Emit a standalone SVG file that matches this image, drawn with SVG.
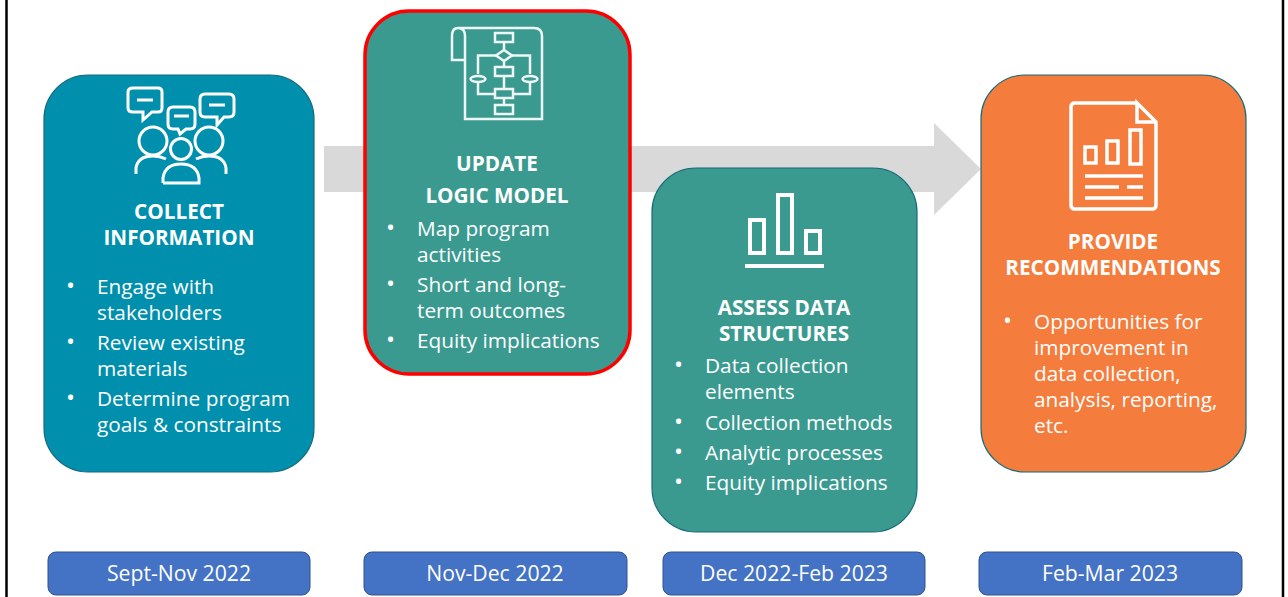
<svg xmlns="http://www.w3.org/2000/svg" width="1288" height="597" viewBox="0 0 1288 597">
<style>
text{font-family:"Open Sans","Noto Sans","Liberation Sans",sans-serif;fill:#fff;font-size:20.8px}
.h{font-weight:700;text-anchor:middle;font-size:20.7px}
.d{text-anchor:middle;font-size:21.2px}
.b{font-size:24px}
.i{fill:none;stroke:#fff;stroke-width:3}
.i2{stroke-width:2.5;opacity:.92}
.i3{stroke-width:4}
.i4{stroke-width:3.5}
.card{stroke:#146b7c;stroke-width:1.2}
.date{fill:#4472c4;stroke:#2f528f;stroke-width:1}
</style>
<rect width="1288" height="597" fill="#fff"/>
<path d="M6.500 0V597M1283 0V597" stroke="#000" stroke-width="2.5" fill="none"/>
<g id="connectors"><path d="M324 146H934V123L981 169L934 215V192H324Z" fill="#d9d9d9"/></g>
<g id="collect">
<rect class="card" x="44" y="75" width="270" height="397" rx="44" fill="#008fac"/>
<g class="i">
<path d="M133 88H158Q162 88 162 92V108Q162 112 158 112H152L143 120V112H133Q128 112 128 108V92Q128 88 133 88Z"/>
<path d="M137 100H153"/>
<path d="M173 107H190Q195 107 195 112V124Q195 129 190 129H186L180 134L178 129H173Q168 129 168 124V112Q168 107 173 107Z"/>
<path d="M174 116H189"/>
<path d="M205 94H229Q234 94 234 99V112Q234 117 229 117H224L217 125V117H205Q200 117 200 112V99Q200 94 205 94Z"/>
<path d="M209 105H225"/>
<circle cx="153" cy="141" r="14"/><circle cx="181" cy="149" r="10.500"/><circle cx="209" cy="141" r="14"/>
<path d="M136 174V168Q138 156 153 156Q160 156 166 159"/>
<path d="M226 174V168Q224 156 209 156Q202 156 196 159"/>
<path d="M163 183V178Q165 164 181 164Q197 164 199 178V183H163"/>
</g>
<text class="h" x="179" y="219">COLLECT</text>
<text class="h" x="179" y="245">INFORMATION</text>
<text class="b" x="66" y="294">•</text><text x="97" y="294">Engage with</text><text x="97" y="320">stakeholders</text>
<text class="b" x="66" y="350">•</text><text x="97" y="350">Review existing</text><text x="97" y="376">materials</text>
<text class="b" x="66" y="406">•</text><text x="97" y="406">Determine program</text><text x="97" y="432">goals &amp; constraints</text>
</g>
<g id="logic">
<rect x="365" y="11" width="265" height="363" rx="44" fill="#3a9a8f" stroke="#f00" stroke-width="3.500"/>
<g class="i i2">
<path d="M465 60H452V36Q452 28 458 28Q465 28 465 36V119H542V36Q542 28 534 28H458"/>
<rect x="495" y="33" width="18" height="9"/><path d="M504 42V50"/>
<path d="M504 50L512 55.500L504 61L496 55.500Z"/><path d="M496 55.500H478V74M512 55.500H530V74"/>
<path d="M504 61V67"/><rect x="495" y="67" width="18" height="9"/><path d="M504 76V89"/>
<ellipse cx="478" cy="79" rx="7.500" ry="3"/><ellipse cx="530" cy="79" rx="7.500" ry="3"/>
<path d="M478 82V94H495M530 82V94H513"/>
<rect x="495" y="89" width="18" height="9"/><path d="M504 98V105"/><rect x="495" y="105" width="18" height="9"/>
</g>
<text class="h" x="497" y="171">UPDATE</text>
<text class="h" x="497" y="203">LOGIC MODEL</text>
<text class="b" x="386" y="236">•</text><text x="417" y="236">Map program</text><text x="417" y="262">activities</text>
<text class="b" x="386" y="292">•</text><text x="417" y="292">Short and long-</text><text x="417" y="318">term outcomes</text>
<text class="b" x="386" y="348">•</text><text x="417" y="348">Equity implications</text>
</g>
<g id="assess">
<rect class="card" x="652" y="168" width="265" height="364" rx="44" fill="#3a9a8f"/>
<g class="i i3">
<rect x="750" y="220" width="14" height="33"/><rect x="778" y="195" width="14" height="58"/><rect x="806" y="231" width="14" height="22"/>
<path d="M745 266H824"/>
</g>
<text class="h" x="784" y="315">ASSESS DATA</text>
<text class="h" x="784" y="341">STRUCTURES</text>
<text class="b" x="674" y="373">•</text><text x="705" y="373">Data collection</text><text x="705" y="399">elements</text>
<text class="b" x="674" y="430">•</text><text x="705" y="430">Collection methods</text>
<text class="b" x="674" y="460">•</text><text x="705" y="460">Analytic processes</text>
<text class="b" x="674" y="490">•</text><text x="705" y="490">Equity implications</text>
</g>
<g id="recommend">
<rect class="card" x="981" y="75" width="265" height="397" rx="44" fill="#f47c3c"/>
<g class="i i4">
<path d="M1137 103H1075Q1071 103 1071 107V205Q1071 209 1075 209H1152Q1156 209 1156 205V122L1137 103V122H1156"/>
<rect x="1085" y="147" width="11" height="16"/><rect x="1107" y="141" width="11" height="22"/><rect x="1130" y="130" width="11" height="34"/>
<path d="M1085 176H1143M1085 187H1119M1127 187H1143M1085 198H1143"/>
</g>
<text class="h" x="1113" y="249">PROVIDE</text>
<text class="h" x="1113" y="275">RECOMMENDATIONS</text>
<text class="b" x="1003" y="329">•</text><text x="1034" y="329">Opportunities for</text><text x="1034" y="355">improvement in</text><text x="1034" y="381">data collection,</text><text x="1034" y="407">analysis, reporting,</text><text x="1034" y="433">etc.</text>
</g>
<g id="date1"><rect class="date" x="48" y="552" width="262" height="43" rx="8"/><text class="d" x="179" y="581">Sept-Nov 2022</text></g>
<g id="date2"><rect class="date" x="364" y="552" width="263" height="43" rx="8"/><text class="d" x="495" y="581">Nov-Dec 2022</text></g>
<g id="date3"><rect class="date" x="663" y="552" width="262" height="43" rx="8"/><text class="d" x="794" y="581">Dec 2022-Feb 2023</text></g>
<g id="date4"><rect class="date" x="979" y="552" width="263" height="43" rx="8"/><text class="d" x="1110" y="581">Feb-Mar 2023</text></g>
</svg>
